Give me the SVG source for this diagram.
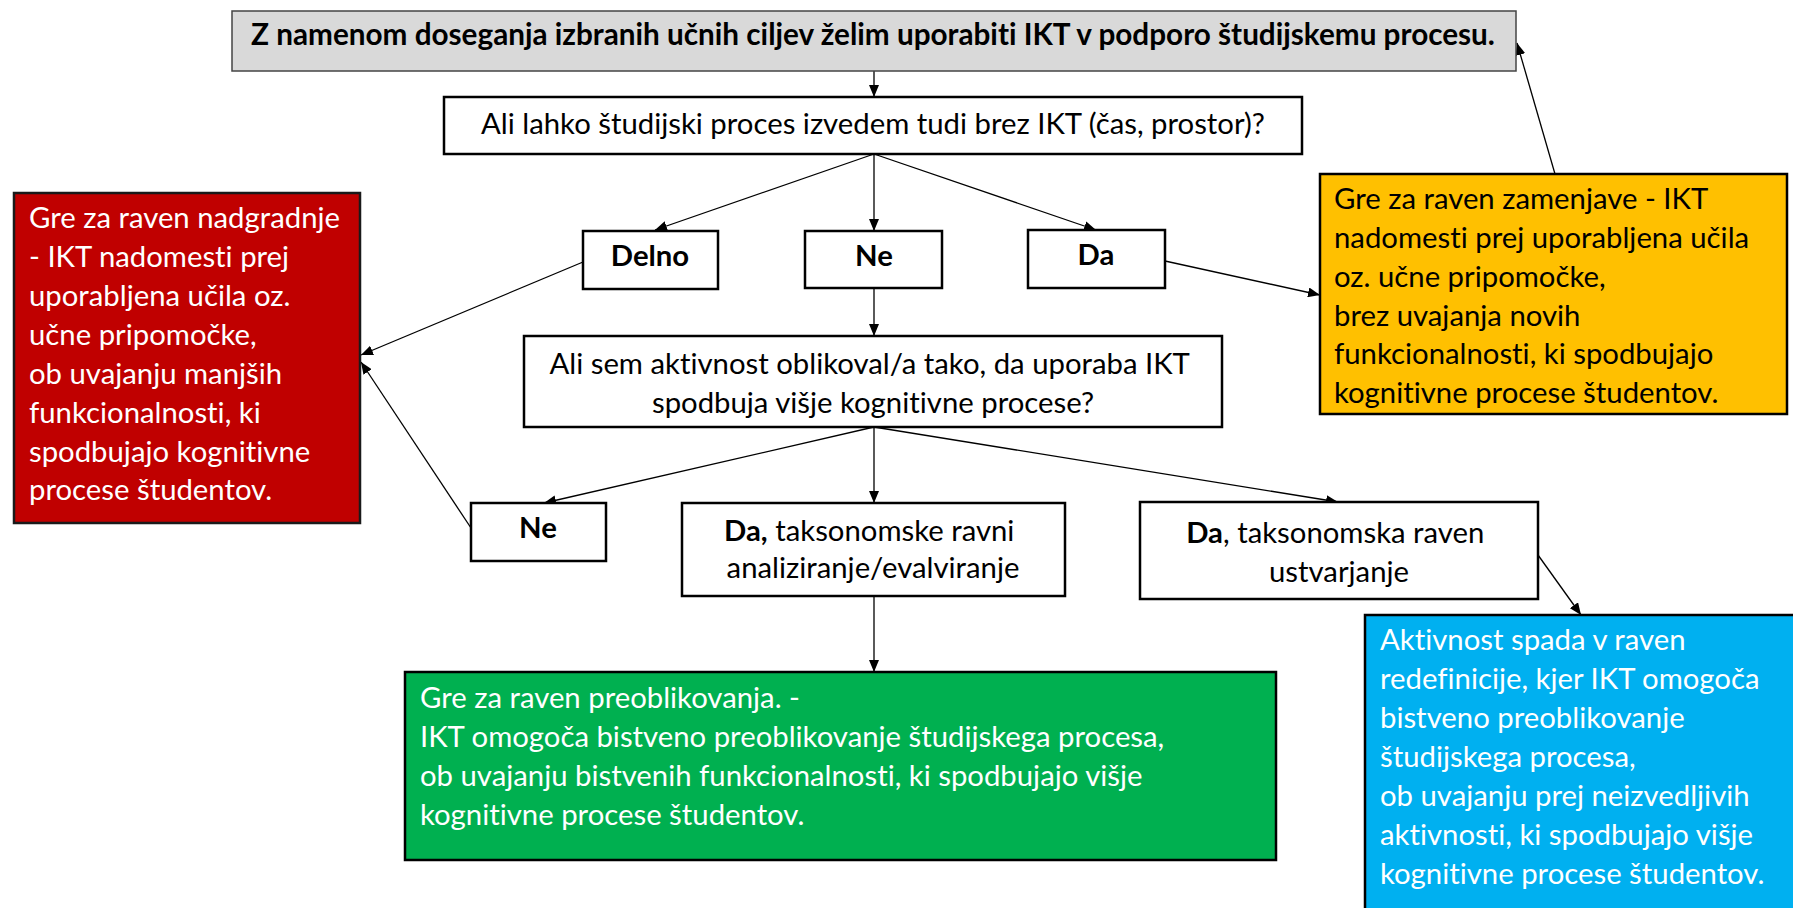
<svg xmlns="http://www.w3.org/2000/svg" width="1793" height="908" viewBox="0 0 1793 908">
  <defs>
    <marker id="ah" markerUnits="userSpaceOnUse" markerWidth="12" markerHeight="10" refX="12" refY="5" orient="auto">
      <path d="M0,0 L12,5 L0,10 z" fill="#000"/>
    </marker>
    <style>
      .box { fill: #fff; stroke: #000; stroke-width: 2.5; }
      .t { font-family: Lato, "Open Sans", "DejaVu Sans", sans-serif; font-size: 29.3px; fill: #000; font-variant-ligatures: none; }
      .w { fill: #fff; }
      .b { font-weight: bold; }
      .c { text-anchor: middle; }
      .big { font-size: 29.7px; }
      #connectors line { stroke: #000; stroke-width: 1.3; marker-end: url(#ah); }
    </style>
  </defs>
  <rect width="1793" height="908" fill="#fff"/>

  <!-- connectors -->
  <g id="connectors">
    <line x1="874" y1="71" x2="874" y2="97"/>
    <line x1="874" y1="154" x2="655" y2="230"/>
    <line x1="874" y1="154" x2="874" y2="231"/>
    <line x1="874" y1="154" x2="1096" y2="230"/>
    <line x1="583" y1="262" x2="361" y2="355"/>
    <line x1="874" y1="288" x2="874" y2="336"/>
    <line x1="1165" y1="261" x2="1320" y2="295"/>
    <line x1="1555" y1="174" x2="1517" y2="43"/>
    <line x1="874" y1="427" x2="544" y2="503"/>
    <line x1="874" y1="427" x2="874" y2="503"/>
    <line x1="874" y1="427" x2="1338" y2="502"/>
    <line x1="471" y1="528" x2="361" y2="362"/>
    <line x1="1538" y1="555" x2="1581" y2="615"/>
    <line x1="874" y1="596" x2="874" y2="672"/>
  </g>

  <g id="goal">
    <rect x="232" y="11" width="1284" height="60" fill="#d9d9d9" stroke="#444" stroke-width="1.5"/>
    <text class="t b c big" x="873" y="45">Z namenom doseganja izbranih učnih ciljev želim uporabiti IKT v podporo študijskemu procesu.</text>
  </g>

  <g id="q1">
    <rect class="box" x="444" y="97" width="858" height="57"/>
    <text class="t c" x="873" y="134">Ali lahko študijski proces izvedem tudi brez IKT (čas, prostor)?</text>
  </g>

  <g id="a-delno">
    <rect class="box" x="583" y="231" width="135" height="58"/>
    <text class="t b c" x="650" y="266">Delno</text>
  </g>

  <g id="a-ne1">
    <rect class="box" x="805" y="231" width="137" height="57"/>
    <text class="t b c" x="874" y="266">Ne</text>
  </g>

  <g id="a-da1">
    <rect class="box" x="1028" y="230" width="137" height="58"/>
    <text class="t b c" x="1096" y="265">Da</text>
  </g>

  <g id="augmentation">
    <rect x="14" y="193" width="346" height="330" fill="#c00000" stroke="#1a1a1a" stroke-width="2.5"/>
    <text class="t w" x="29">
      <tspan x="29" y="228">Gre za raven nadgradnje</tspan>
      <tspan x="29" y="267">- IKT nadomesti prej</tspan>
      <tspan x="29" y="306">uporabljena učila oz.</tspan>
      <tspan x="29" y="345">učne pripomočke,</tspan>
      <tspan x="29" y="384">ob uvajanju manjših</tspan>
      <tspan x="29" y="423">funkcionalnosti, ki</tspan>
      <tspan x="29" y="462">spodbujajo kognitivne</tspan>
      <tspan x="29" y="500">procese študentov.</tspan>
    </text>
  </g>

  <g id="substitution">
    <rect x="1320" y="174" width="467" height="240" fill="#ffc000" stroke="#000" stroke-width="2.5"/>
    <text class="t">
      <tspan x="1334" y="209">Gre za raven zamenjave - IKT</tspan>
      <tspan x="1334" y="248">nadomesti prej uporabljena učila</tspan>
      <tspan x="1334" y="287">oz. učne pripomočke,</tspan>
      <tspan x="1334" y="326">brez uvajanja novih</tspan>
      <tspan x="1334" y="364">funkcionalnosti, ki spodbujajo</tspan>
      <tspan x="1334" y="403">kognitivne procese študentov.</tspan>
    </text>
  </g>

  <g id="q2">
    <rect class="box" x="524" y="336" width="698" height="91"/>
    <text class="t c">
      <tspan x="873" y="374">Ali sem aktivnost oblikoval/a tako, da uporaba IKT</tspan>
      <tspan x="873" y="413">spodbuja višje kognitivne procese?</tspan>
    </text>
  </g>

  <g id="a-ne2">
    <rect class="box" x="471" y="503" width="135" height="58"/>
    <text class="t b c" x="538" y="538">Ne</text>
  </g>

  <g id="a-da-analyse">
    <rect class="box" x="682" y="503" width="383" height="93"/>
    <text class="t c">
      <tspan x="873" y="541"><tspan class="b">Da,</tspan> taksonomske ravni</tspan>
      <tspan x="873" y="578">analiziranje/evalviranje</tspan>
    </text>
  </g>

  <g id="a-da-create">
    <rect class="box" x="1140" y="502" width="398" height="97"/>
    <text class="t c">
      <tspan x="1339" y="543"><tspan class="b">Da</tspan>, taksonomska raven</tspan>
      <tspan x="1339" y="582">ustvarjanje</tspan>
    </text>
  </g>

  <g id="modification">
    <rect x="405" y="672" width="871" height="188" fill="#00b050" stroke="#000" stroke-width="2.5"/>
    <text class="t w">
      <tspan x="420" y="708">Gre za raven preoblikovanja. -</tspan>
      <tspan x="420" y="747">IKT omogoča bistveno preoblikovanje študijskega procesa,</tspan>
      <tspan x="420" y="786">ob uvajanju bistvenih funkcionalnosti, ki spodbujajo višje</tspan>
      <tspan x="420" y="825">kognitivne procese študentov.</tspan>
    </text>
  </g>

  <g id="redefinition">
    <rect x="1365" y="615" width="440" height="300" fill="#00b0f0" stroke="#000" stroke-width="2.5"/>
    <text class="t w">
      <tspan x="1380" y="650">Aktivnost spada v raven</tspan>
      <tspan x="1380" y="689">redefinicije, kjer IKT omogoča</tspan>
      <tspan x="1380" y="728">bistveno preoblikovanje</tspan>
      <tspan x="1380" y="767">študijskega procesa,</tspan>
      <tspan x="1380" y="806">ob uvajanju prej neizvedljivih</tspan>
      <tspan x="1380" y="845">aktivnosti, ki spodbujajo višje</tspan>
      <tspan x="1380" y="884">kognitivne procese študentov.</tspan>
    </text>
  </g>
</svg>
